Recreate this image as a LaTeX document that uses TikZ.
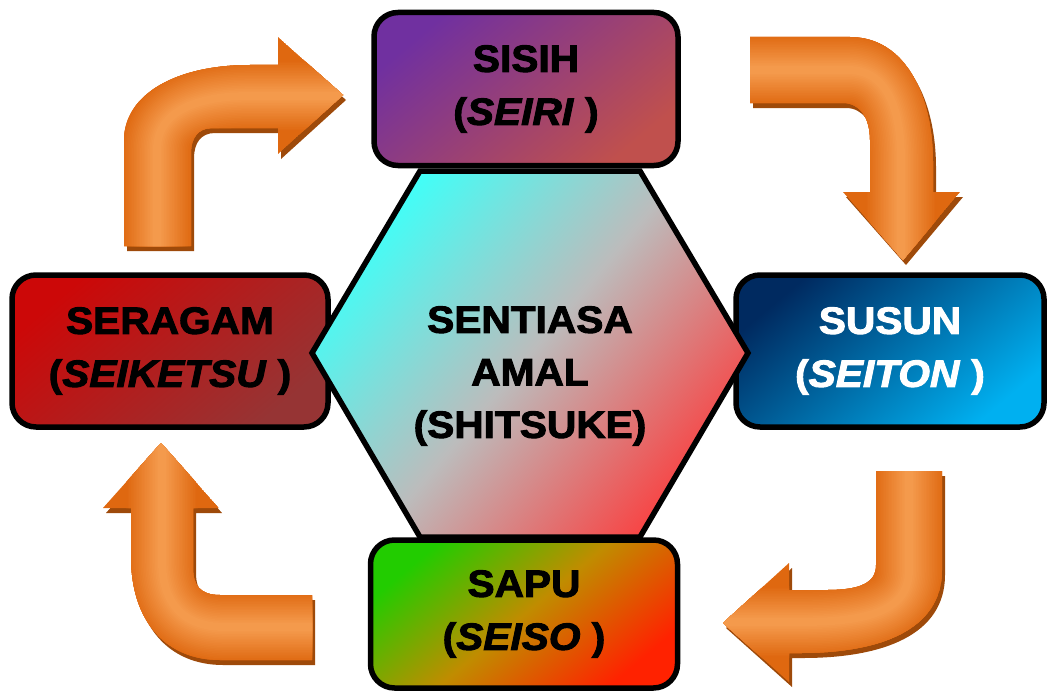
\documentclass[tikz,border=0pt]{standalone}
\usepackage{fontspec}
\newfontfamily\heavy[FakeStretch=1.07, FakeBold=2.5,
  ItalicFont={Liberation Sans Bold Italic}]{Liberation Sans Bold}

\definecolor{sisihA}{HTML}{7030A0}
\definecolor{sisihB}{HTML}{C0504D}
\definecolor{susunA}{HTML}{002A60}
\definecolor{susunB}{HTML}{00B0F0}
\definecolor{sapuA}{HTML}{22CC00}
\definecolor{sapuM}{HTML}{C08C00}
\definecolor{sapuB}{HTML}{FF2200}
\definecolor{seragamA}{HTML}{CC0808}
\definecolor{seragamB}{HTML}{963434}
\definecolor{hexA}{HTML}{40FFF8}
\definecolor{hexM}{HTML}{BCBCBC}
\definecolor{hexB}{HTML}{F84444}
\definecolor{arrowdark}{HTML}{DF6810}
\definecolor{arrowlight}{HTML}{F49A4C}
\definecolor{arrowshade}{HTML}{9E4A0A}

% bent block arrow: #1 outline, #2 centre line
\newcommand{\turnarrow}[2]{%
  \fill[arrowshade, shift={(3,5)}] #1;
  \begin{scope}
    \clip #1;
    \fill[arrowdark] #1;
    \foreach \i [evaluate=\i as \p using int(\i*100/20)] in {0,...,20}
      \draw[line width=72-3.2*\i, color=arrowlight!\p!arrowdark] #2;
  \end{scope}}

\begin{document}
\begin{tikzpicture}[x=1pt, y=-1pt,
    box/.style={draw, line width=5.5, rounded corners=24, align=center,
      font=\heavy\fontsize{38}{53}\selectfont, inner sep=0pt},
    core/.style={align=center, font=\heavy\fontsize{38}{52.5}\selectfont}]
  \useasboundingbox (0,0) rectangle (1049,693);

  % the four boxes
  \node[box, minimum width=304, minimum height=153,
    top color=sisihA, bottom color=sisihB, shading angle=40]
    (sisih) at (526,89) {SISIH\\(\textit{SEIRI} )};
  \node[box, minimum width=308, minimum height=152, text=white,
    top color=susunA, bottom color=susunB, shading angle=40]
    (susun) at (890,351) {SUSUN\\(\textit{SEITON} )};
  \node[box, minimum width=307, minimum height=148,
    top color=sapuA, bottom color=sapuB, middle color=sapuM, shading angle=40]
    (sapu) at (524,614) {SAPU\\(\textit{SEISO} )};
  \node[box, minimum width=316, minimum height=152,
    top color=seragamA, bottom color=seragamB, shading angle=40]
    (seragam) at (170,351) {SERAGAM\\(\textit{SEIKETSU} )};

  % centre hexagon
  \draw[line width=5.5, top color=hexA, bottom color=hexB, middle color=hexM,
    shading angle=50]
    (312,353) -- (420,171) -- (640,171) -- (748,353) -- (640,537)
    -- (420,537) -- cycle;
  \node[core] (amal) at (530,376) {SENTIASA\\AMAL\\(SHITSUKE)};

  % arrows
  \turnarrow{(124,246) -- (124,140) .. controls (124,95) and (175,65) .. (250,65)
    -- (278,65) -- (278,37) -- (343,95) -- (278,154) -- (278,128) -- (212,128)
    .. controls (198,128) and (191,138) .. (191,153) -- (191,246) -- cycle}
    {(157,250) -- (157,150) .. controls (157,112) and (195,96) .. (250,96) -- (345,96)};
  \turnarrow{(750,37) -- (850,37) .. controls (905,37) and (933,95) .. (933,163)
    -- (933,192) -- (960,192) -- (903,260) -- (843,192) -- (870,192) -- (870,140)
    .. controls (870,118) and (860,103) .. (843,103) -- (750,103) -- cycle}
    {(745,70) -- (848,70) .. controls (885,70) and (901,105) .. (901,160) -- (901,262)};
  \turnarrow{(876,471) -- (942,471) -- (942,570) .. controls (942,630) and (880,653) .. (800,653)
    -- (789,653) -- (789,682) -- (723,623) -- (789,563) -- (789,590) -- (827,590)
    .. controls (860,590) and (876,583) .. (876,565) -- cycle}
    {(909,465) -- (909,570) .. controls (909,610) and (870,622) .. (800,622) -- (721,622)};
  \turnarrow{(312,595) -- (220,595) .. controls (200,595) and (193,585) .. (193,568)
    -- (193,508) -- (219,508) -- (161,443) -- (103,508) -- (131,508) -- (131,557)
    .. controls (131,620) and (165,660) .. (220,660) -- (312,660) -- cycle}
    {(316,627) -- (225,627) .. controls (180,627) and (162,600) .. (162,560) -- (162,441)};
\end{tikzpicture}
\end{document}
